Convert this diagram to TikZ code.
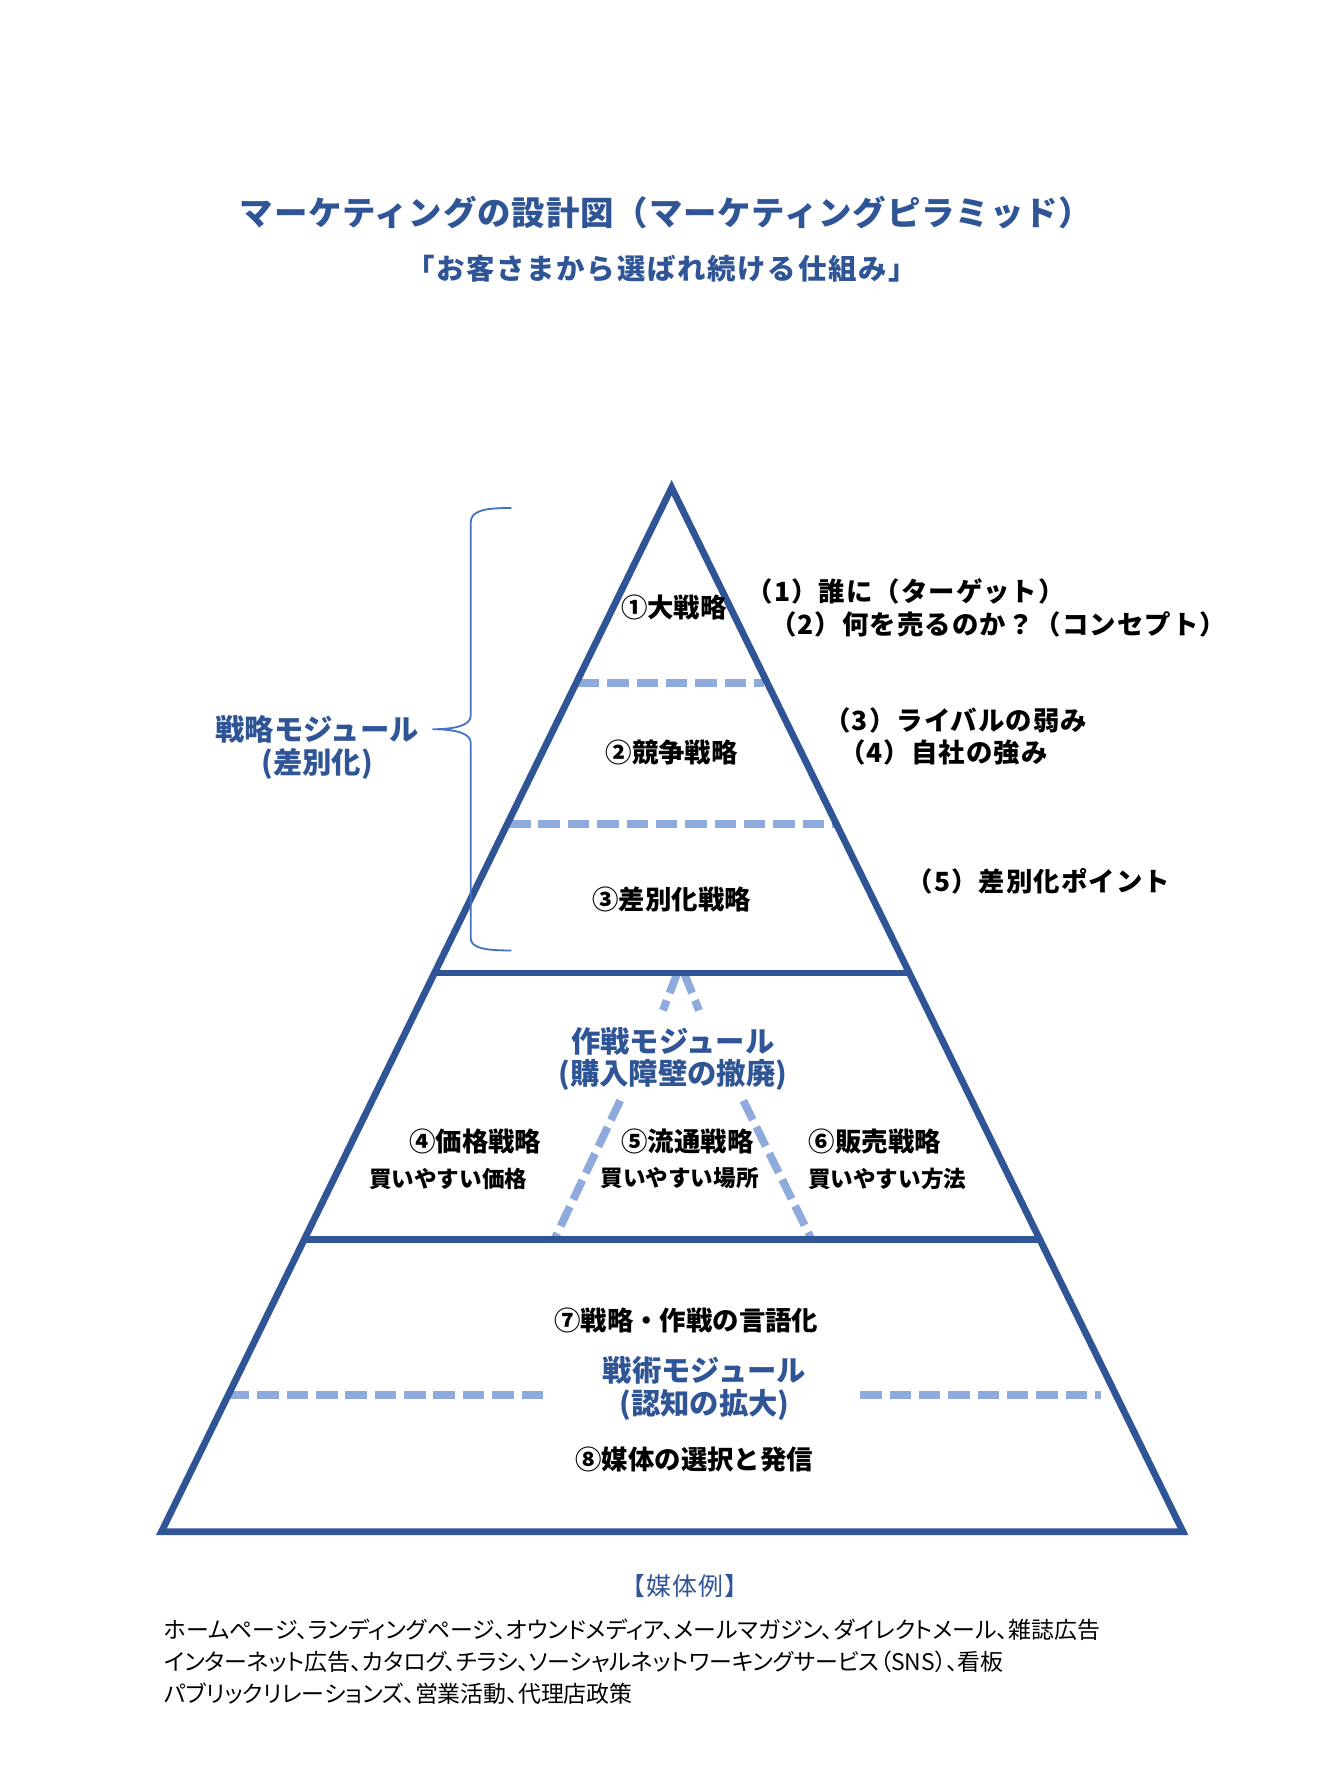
\documentclass[tikz,border=0pt]{standalone}
\usepackage{fontspec}
\setmainfont{Noto Sans CJK JP}
\definecolor{pyr}{RGB}{47,85,151}
\definecolor{lblue}{RGB}{143,170,220}
\definecolor{bracec}{RGB}{68,114,196}
\begin{document}
\begin{tikzpicture}[x=0.5bp,y=-0.5bp,
  solidline/.style={draw=pyr, line width=3bp, line join=miter},
  dashline/.style={draw=lblue, line width=3.5bp, dash pattern=on 9.5bp off 3.5bp},
  lbl/.style={font=\bfseries\fontsize{11.7bp}{14bp}\selectfont, text=black, inner sep=0pt},
  plbl/.style={font=\bfseries\fontsize{11.7bp}{14bp}\selectfont\addfontfeature{LetterSpace=4}, text=black, inner sep=0pt, anchor=west},
  sublbl/.style={font=\bfseries\fontsize{10bp}{12bp}\selectfont, text=black, inner sep=0pt},
  modl/.style={font=\bfseries\fontsize{13bp}{14.5bp}\selectfont, text=pyr, inner sep=0pt, align=center},
  ttl/.style={font=\bfseries\fontsize{14.8bp}{17bp}\selectfont\addfontfeature{LetterSpace=2.8}, text=pyr, inner sep=0pt},
  subttl/.style={font=\bfseries\fontsize{12.6bp}{15bp}\selectfont\addfontfeature{LetterSpace=6}, text=pyr, inner sep=0pt},
  listtxt/.style={font=\fontsize{10.15bp}{12bp}\selectfont\addfontfeature{RawFeature=+palt}, text=black, inner sep=0pt, anchor=west},
  bracestyle/.style={draw=bracec, line width=0.8bp}]
\useasboundingbox (0,0) rectangle (1189,1568);
\fill[white] (0,0) rectangle (1189,1568);

% title
\node[ttl] (title) at (590,188) {マーケティングの設計図（マーケティングピラミッド）};
\node[subttl] (subtitle) at (586,238) {「お客さまから選ばれ続ける仕組み」};

% pyramid coordinates
\coordinate (A) at (595,432);
\coordinate (BL) at (143,1357);
\coordinate (BR) at (1048,1357);
\coordinate (L1) at (384.9,862);
\coordinate (R1) at (805.6,862);
\coordinate (L2) at (269.6,1098);
\coordinate (R2) at (921.2,1098);

% dashed dividers
\coordinate (d1a) at (512,605); \coordinate (d1b) at (677,605);
\coordinate (d2a) at (451,730); \coordinate (d2b) at (740,730);
\coordinate (d3a) at (202,1236); \coordinate (d3b) at (488,1236);
\coordinate (d4a) at (762,1236); \coordinate (d4b) at (975,1236);
\draw[dashline] (d1a) -- (d1b);
\draw[dashline] (d2a) -- (d2b);
\draw[dashline] (d3a) -- (d3b);
\draw[dashline] (d4a) -- (d4b);

% inner dashed triangle (interrupted around the label)
\coordinate (ia1) at (600,862); \coordinate (ia2) at (587.3,895);
\coordinate (ia3) at (549.4,975); \coordinate (ia4) at (492,1096);
\coordinate (ib1) at (606,862); \coordinate (ib2) at (619.2,895);
\coordinate (ib3) at (658.5,975); \coordinate (ib4) at (718,1096);
\draw[dashline] (ia1) -- (ia2);
\draw[dashline] (ia3) -- (ia4);
\draw[dashline] (ib1) -- (ib2);
\draw[dashline] (ib3) -- (ib4);

% pyramid outline and solid levels
\draw[solidline] (A) -- (BL) -- (BR) -- cycle;
\draw[solidline] (L1) -- (R1);
\draw[solidline] (L2) -- (R2);

% brace
\coordinate (brT) at (453,450);
\coordinate (brM) at (383,646);
\coordinate (brB) at (453,842);
\draw[bracestyle] (brT) .. controls (430,450) and (417,452) .. (417,463) -- (417,634)
  .. controls (417,642) and (405,646) .. (brM)
  .. controls (405,646) and (417,650) .. (417,658) -- (417,831)
  .. controls (417,840) and (430,842) .. (brB);

% strategy module
\node[lbl] (s1) at (597,538) {①大戦略};
\node[plbl] (t1) at (661,524) {（1）誰に（ターゲット）};
\node[plbl] (t2) at (682,553) {（2）何を売るのか？（コンセプト）};
\node[lbl] (s2) at (595,667) {②競争戦略};
\node[plbl] (t3) at (730,638) {（3）ライバルの弱み};
\node[plbl] (t4) at (743,667) {（4）自社の強み};
\node[lbl] (s3) at (595,797) {③差別化戦略};
\node[plbl] (t5) at (803,781) {（5）差別化ポイント};
\node[modl] (m1) at (281,662) {戦略モジュール\\(差別化)};

% operation module
\node[modl] (m2) at (596,938) {作戦モジュール\\(購入障壁の撤廃)};
\node[lbl] (s4) at (421,1011) {④価格戦略};
\node[sublbl] (u4) at (397,1044) {買いやすい価格};
\node[lbl] (s5) at (609,1011) {⑤流通戦略};
\node[sublbl] (u5) at (602,1044) {買いやすい場所};
\node[lbl] (s6) at (775,1011) {⑥販売戦略};
\node[sublbl] (u6) at (786,1044) {買いやすい方法};

% tactics module
\node[lbl] (s7) at (608,1170) {⑦戦略・作戦の言語化};
\node[modl] (m3) at (624,1230) {戦術モジュール\\(認知の拡大)};
\node[lbl] (s8) at (615,1293) {⑧媒体の選択と発信};

% media examples
\node[font=\fontsize{11bp}{13bp}\selectfont\addfontfeature{LetterSpace=5}, text=pyr, inner sep=0pt] (ex) at (607,1405) {【媒体例】};
\node[listtxt] (ln1) at (145,1444) {ホームページ、ランディングページ、オウンドメディア、メールマガジン、ダイレクトメール、雑誌広告};
\node[listtxt] (ln2) at (145,1472) {インターネット広告、カタログ、チラシ、ソーシャルネットワーキングサービス（SNS）、看板};
\node[listtxt] (ln3) at (145,1500) {パブリックリレーションズ、営業活動、代理店政策};
\end{tikzpicture}
\end{document}
